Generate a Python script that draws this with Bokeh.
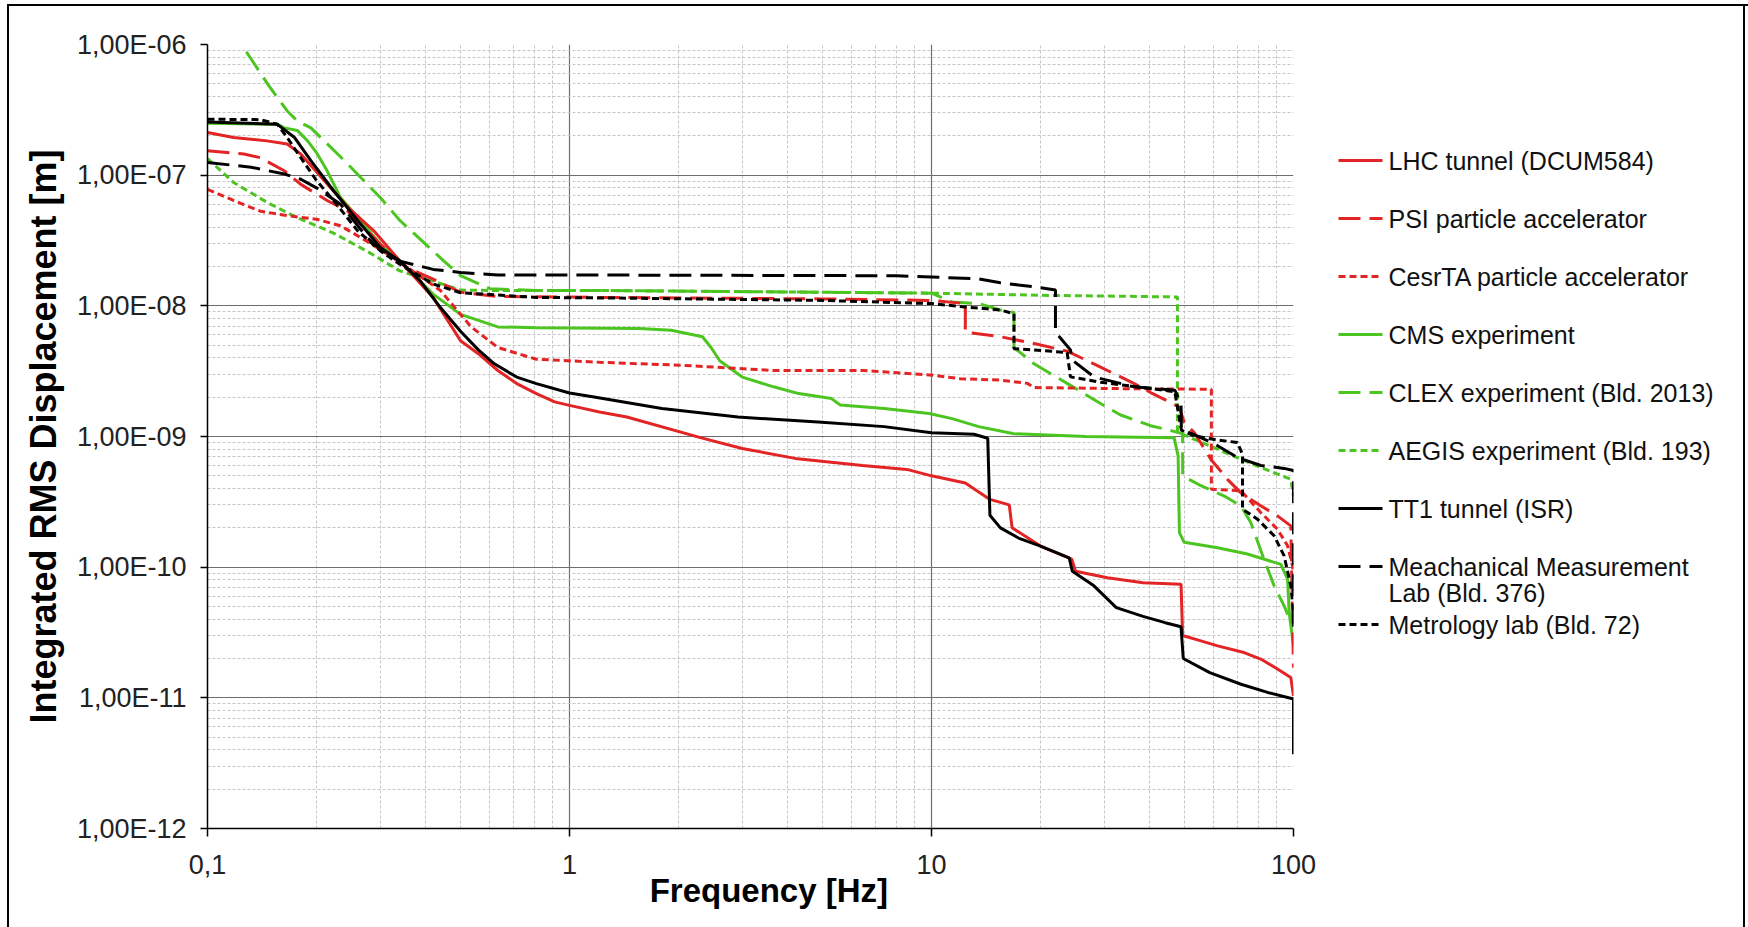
from bokeh.plotting import figure
from bokeh.layouts import row
from bokeh.models import FixedTicker, CustomJSTickFormatter, Range1d
from bokeh.core.properties import value
from bokeh.embed import file_html
from bokeh.resources import INLINE

# ---------------- data ----------------
x_tick_values = [0.1, 1, 10, 100]
x_tick_labels = ["0,1", "1", "10", "100"]
y_tick_values = [1e-12, 1e-11, 1e-10, 1e-9, 1e-8, 1e-7, 1e-6]
y_tick_labels = ["1,00E-12", "1,00E-11", "1,00E-10", "1,00E-09",
                 "1,00E-08", "1,00E-07", "1,00E-06"]

series_names = ["LHC tunnel (DCUM584)", "PSI particle accelerator",
                "CesrTA particle accelerator", "CMS experiment",
                "CLEX experiment (Bld. 2013)", "AEGIS experiment (Bld. 193)",
                "TT1 tunnel (ISR)", "Meachanical Measurement",
                "Metrology lab (Bld. 72)"]
legend_extra_line = "Lab (Bld. 376)"
x_title = "Frequency [Hz]"
y_title = "Integrated RMS Displacement [m]"

lhc_f = [0.1, 0.118, 0.146, 0.166, 0.181, 0.21, 0.244, 0.288, 0.34, 0.42, 0.5,
         0.56, 0.634, 0.715, 0.81, 0.91, 1.0, 1.21, 1.44, 2.3, 3.0, 4.2, 6.45,
         8.55, 10, 12.4, 14.5, 16.4, 16.7, 20, 24.4, 25, 30.6, 38.4, 48.9, 49.4,
         55.5, 61.7, 73, 81.2, 90.3, 98.3, 100]
lhc_d = [2.12e-7, 1.94e-7, 1.83e-7, 1.73e-7, 1.45e-7, 9.1e-8, 5.7e-8, 3.75e-8,
         2.2e-8, 1.16e-8, 5.4e-9, 4.3e-9, 3.2e-9, 2.54e-9, 2.13e-9, 1.84e-9,
         1.73e-9, 1.54e-9, 1.41e-9, 9.8e-10, 8.1e-10, 6.8e-10, 6.0e-10, 5.6e-10,
         5.0e-10, 4.4e-10, 3.3e-10, 3.0e-10, 2.0e-10, 1.45e-10, 1.15e-10,
         9.3e-11, 8.3e-11, 7.6e-11, 7.4e-11, 3.0e-11, 2.73e-11, 2.5e-11,
         2.22e-11, 1.98e-11, 1.66e-11, 1.43e-11, 1.03e-11]

psi_f = [0.1, 0.126, 0.14, 0.163, 0.181, 0.214, 0.244, 0.30, 0.356, 0.42, 0.5,
         0.634, 1.21, 5, 10, 12.4, 12.4, 15.5, 19.2, 23.7, 29.3, 36.2, 40.3,
         45.8, 48.4, 49.9, 53.2, 59.1, 65.7, 71.6, 81.2, 90.3, 98.3, 100]
psi_d = [1.54e-7, 1.45e-7, 1.36e-7, 1.08e-7, 8.5e-8, 6.4e-8, 5.3e-8, 2.97e-8,
         1.96e-8, 1.6e-8, 1.27e-8, 1.18e-8, 1.16e-8, 1.13e-8, 1.1e-8, 1.04e-8,
         6.3e-9, 5.8e-9, 5.15e-9, 4.5e-9, 3.4e-9, 2.55e-9, 2.17e-9, 1.82e-9,
         1.67e-9, 1.28e-9, 1.07e-9, 6.7e-10, 4.7e-10, 3.7e-10, 2.95e-10,
         2.47e-10, 2.07e-10, 1.7e-11]

cesr_f = [0.1, 0.118, 0.14, 0.166, 0.2, 0.233, 0.265, 0.30, 0.345, 0.44, 0.535,
          0.634, 0.81, 1.21, 2.08, 3.66, 6.45, 10.1, 12, 15.5, 18.4, 19.2, 35.2,
          59.3, 59.3, 71.6, 81.2, 90.3, 96.3, 99.4, 100]
cesr_d = [7.8e-8, 6.4e-8, 5.3e-8, 4.9e-8, 4.6e-8, 4.1e-8, 3.33e-8, 2.7e-8,
          2.1e-8, 1.31e-8, 6.9e-9, 4.8e-9, 3.9e-9, 3.7e-9, 3.5e-9, 3.2e-9,
          3.2e-9, 2.94e-9, 2.77e-9, 2.7e-9, 2.55e-9, 2.37e-9, 2.32e-9, 2.3e-9,
          3.95e-10, 3.84e-10, 2.62e-10, 1.95e-10, 1.46e-10, 1.02e-10, 8.0e-11]

cms_f = [0.1, 0.156, 0.163, 0.177, 0.189, 0.2, 0.214, 0.233, 0.26, 0.30, 0.34,
         0.42, 0.5, 0.634, 0.81, 1.56, 1.91, 2.33, 2.46, 2.6, 3.0, 3.66, 4.3,
         5.29, 5.6, 7.4, 9.85, 11.4, 13.5, 16.9, 26.7, 46.8, 48, 48.4, 49.9,
         61.7, 74.6, 92.3, 96.3, 97.3, 100]
cms_d = [2.5e-7, 2.45e-7, 2.3e-7, 2.2e-7, 1.83e-7, 1.49e-7, 1.08e-7, 6.75e-8,
         4.75e-8, 2.97e-8, 2.2e-8, 1.23e-8, 8.6e-9, 6.9e-9, 6.8e-9, 6.7e-9,
         6.5e-9, 5.8e-9, 4.8e-9, 3.8e-9, 2.85e-9, 2.4e-9, 2.13e-9, 1.95e-9,
         1.74e-9, 1.64e-9, 1.5e-9, 1.37e-9, 1.19e-9, 1.05e-9, 1.0e-9, 9.8e-10,
         7.1e-10, 1.84e-10, 1.55e-10, 1.41e-10, 1.26e-10, 1.05e-10, 8.1e-11,
         4.5e-11, 2.5e-11]

clex_f = [0.128, 0.148, 0.166, 0.177, 0.193, 0.21, 0.239, 0.265, 0.30, 0.34,
          0.40, 0.45, 0.5, 0.604, 0.81, 1.21, 5, 10, 11.4, 13.5, 15.5, 16.9,
          16.9, 19.2, 23.7, 29.3, 33.3, 40.3, 47, 49.4, 49.4, 55.5, 64.4, 71.6,
          76.2, 82.9, 88.4, 94.2, 97.3, 100]
clex_d = [8.8e-7, 4.8e-7, 3.1e-7, 2.6e-7, 2.3e-7, 1.83e-7, 1.29e-7, 9.6e-8,
          6.75e-8, 4.5e-8, 2.97e-8, 2.2e-8, 1.7e-8, 1.35e-8, 1.31e-8, 1.31e-8,
          1.27e-8, 1.25e-8, 1.07e-8, 1.04e-8, 9.3e-9, 8.9e-9, 4.8e-9, 3.6e-9,
          2.55e-9, 1.79e-9, 1.46e-9, 1.21e-9, 1.09e-9, 1.05e-9, 5.0e-10,
          4.2e-10, 3.5e-10, 2.94e-10, 2.2e-10, 1.15e-10, 7.2e-11, 5.06e-11,
          4.1e-11, 4.0e-11]

aegis_f = [0.1, 0.118, 0.146, 0.175, 0.223, 0.277, 0.34, 0.42, 0.5, 0.634, 1.21,
           10, 21.8, 47.8, 47.8, 49.4, 71.6, 81.2, 98.3, 100]
aegis_d = [1.34e-7, 8.8e-8, 6.2e-8, 4.8e-8, 3.6e-8, 2.6e-8, 1.85e-8, 1.55e-8,
           1.32e-8, 1.31e-8, 1.31e-8, 1.25e-8, 1.2e-8, 1.17e-8, 1.1e-9,
           1.04e-9, 6.7e-10, 5.8e-10, 4.7e-10, 3.5e-10]

tt1_f = [0.1, 0.156, 0.174, 0.193, 0.223, 0.26, 0.30, 0.34, 0.387, 0.44, 0.5,
         0.56, 0.62, 0.715, 0.81, 1.0, 1.18, 1.8, 2.92, 4.86, 7.4, 10, 13.1,
         14.3, 14.5, 15.5, 17.4, 20, 24, 24.5, 28.1, 32.4, 38.4, 44.2, 48.9,
         49.6, 58.7, 71.6, 84.8, 100, 100]
tt1_d = [2.55e-7, 2.45e-7, 1.94e-7, 1.29e-7, 7.6e-8, 4.5e-8, 2.8e-8, 2.2e-8,
         1.55e-8, 9.7e-9, 6.4e-9, 4.6e-9, 3.6e-9, 2.85e-9, 2.54e-9, 2.15e-9,
         2.0e-9, 1.64e-9, 1.41e-9, 1.29e-9, 1.19e-9, 1.07e-9, 1.04e-9, 9.7e-10,
         2.5e-10, 2.0e-10, 1.67e-10, 1.45e-10, 1.18e-10, 9.3e-11, 7.2e-11,
         4.9e-11, 4.2e-11, 3.76e-11, 3.5e-11, 2.0e-11, 1.56e-11, 1.27e-11,
         1.1e-11, 9.8e-12, 3.7e-12]

mech_f = [0.1, 0.132, 0.163, 0.181, 0.2, 0.233, 0.277, 0.30, 0.34, 0.42, 0.5,
          0.634, 1.21, 8, 10, 13.5, 15.5, 19.2, 22, 22, 24.2, 24.5, 28.1, 36.2,
          47, 48.9, 49, 55.5, 61.7, 70, 81.2, 94.2, 100, 100]
mech_d = [1.25e-7, 1.15e-7, 1.02e-7, 9.3e-8, 8.0e-8, 6.0e-8, 3.3e-8, 2.7e-8,
          2.2e-8, 1.9e-8, 1.8e-8, 1.72e-8, 1.72e-8, 1.7e-8, 1.66e-8, 1.61e-8,
          1.5e-8, 1.4e-8, 1.32e-8, 6.3e-9, 4.6e-9, 3.84e-9, 2.86e-9, 2.4e-9,
          2.26e-9, 1.79e-9, 1.14e-9, 9.8e-10, 8.5e-10, 6.9e-10, 6.0e-10,
          5.7e-10, 5.5e-10, 3.5e-11]

metro_f = [0.1, 0.14, 0.156, 0.166, 0.181, 0.2, 0.223, 0.26, 0.30, 0.34, 0.42,
           0.5, 0.81, 1.21, 5, 10, 12.4, 15.5, 16.9, 16.9, 23.7, 24.2, 29.3,
           40.3, 47, 49, 53.2, 61.7, 70, 72.3, 72.3, 79.5, 88.4, 94.2, 98.3, 100]
metro_d = [2.68e-7, 2.66e-7, 2.45e-7, 1.94e-7, 1.36e-7, 9.1e-8, 6.4e-8, 3.75e-8,
           2.64e-8, 2.08e-8, 1.47e-8, 1.26e-8, 1.16e-8, 1.15e-8, 1.1e-8, 1.04e-8,
           9.8e-9, 9.3e-9, 8.7e-9, 4.7e-9, 4.4e-9, 2.86e-9, 2.6e-9, 2.33e-9,
           2.2e-9, 1.12e-9, 1.01e-9, 9.4e-10, 9.0e-10, 7.3e-10, 2.78e-10,
           2.33e-10, 1.74e-10, 1.22e-10, 7.2e-11, 4.5e-11]

# ---------------- layout constants ----------------
W, H = 1748, 927
FL, FR, FT, FB = 207, 1293, 44, 828   # plot frame edges (pixels)
W1 = 1330                              # width of the chart figure; legend panel follows

RED = "#e32424"
GREEN = "#4cc521"
BLACK = "#000000"
LONG = "22 9"
SHORT = "7 4"
FONT = "Liberation Sans"
NBSP = "\u00a0"

# ---------------- main chart ----------------
p = figure(width=W1, height=H, x_axis_type="log", y_axis_type="log",
           x_range=(0.1, 100), y_range=(1e-12, 1e-6),
           output_backend="svg", toolbar_location=None,
           min_border_left=FL, min_border_right=W1 - FR,
           min_border_top=FT, min_border_bottom=H - FB)
p.background_fill_color = "white"
p.border_fill_alpha = 0
p.outline_line_color = None
# outer chart border (left + top edges of this part)
p.styles = {
    "background-color": "white",
    "background-image": "linear-gradient(#000,#000), linear-gradient(#000,#000)",
    "background-size": "2px 930px, 1330px 2px",
    "background-position": "7px 4px, 7px 4px",
    "background-repeat": "no-repeat",
}

x_minor = [m * 10.0 ** e for e in (-1, 0, 1) for m in range(2, 10)]
y_minor = [m * 10.0 ** e for e in range(-12, -6) for m in range(2, 10)]
xt = FixedTicker(ticks=x_tick_values, minor_ticks=x_minor)
yt = FixedTicker(ticks=y_tick_values, minor_ticks=y_minor)
p.xaxis.ticker = xt
p.yaxis.ticker = yt
p.xgrid.ticker = xt
p.ygrid.ticker = yt

fmt_code = """
let best = 0, bd = Infinity;
for (let i = 0; i < vals.length; i++) {
  const d = Math.abs(Math.log10(tick) - Math.log10(vals[i]));
  if (d < bd) { bd = d; best = i; }
}
return labs[best];
"""
p.xaxis.formatter = CustomJSTickFormatter(args=dict(vals=x_tick_values, labs=x_tick_labels), code=fmt_code)
p.yaxis.formatter = CustomJSTickFormatter(args=dict(vals=y_tick_values, labs=y_tick_labels), code=fmt_code)

for g in (p.xgrid, p.ygrid):
    g.grid_line_color = "#6e6e6e"
    g.grid_line_width = 1.2
    g.minor_grid_line_color = "#c6c6c6"
    g.minor_grid_line_dash = "3 2"
    g.minor_grid_line_width = 1

for ax in (p.xaxis, p.yaxis):
    ax.axis_line_color = "black"
    ax.axis_line_width = 1.5
    ax.major_tick_line_color = "black"
    ax.major_tick_line_width = 1.5
    ax.major_tick_in = 0
    ax.minor_tick_line_color = None
    ax.major_label_text_font = FONT
    ax.major_label_text_font_size = "27px"
    ax.major_label_text_color = "#222222"
    ax.axis_label_text_font = FONT
    ax.axis_label_text_font_style = "bold"
    ax.axis_label_text_color = "#000000"
p.xaxis.major_tick_out = 8
p.yaxis.major_tick_out = 7
p.xaxis.major_label_standoff = 18
p.yaxis.major_label_standoff = 14

# leading no-break spaces shift the centred title right, as in the original
p.xaxis.axis_label = NBSP * 4 + x_title
p.xaxis.axis_label_text_font_size = "33px"
p.xaxis.axis_label_standoff = -5
p.yaxis.axis_label = y_title
p.yaxis.axis_label_text_font_size = "36px"
p.yaxis.axis_label_standoff = 10

def draw(f, d, color, dash):
    return p.line(f, d, line_color=color, line_width=3, line_dash=dash)

styles = {}
styles["cms"] = (GREEN, "solid")
styles["aegis"] = (GREEN, SHORT)
styles["clex"] = (GREEN, LONG)
styles["cesr"] = (RED, SHORT)
styles["psi"] = (RED, LONG)
styles["lhc"] = (RED, "solid")
styles["metro"] = (BLACK, SHORT)
styles["mech"] = (BLACK, LONG)
styles["tt1"] = (BLACK, "solid")

draw(cms_f, cms_d, *styles["cms"])
draw(aegis_f, aegis_d, *styles["aegis"])
draw(clex_f, clex_d, *styles["clex"])
draw(cesr_f, cesr_d, *styles["cesr"])
draw(psi_f, psi_d, *styles["psi"])
draw(lhc_f, lhc_d, *styles["lhc"])
draw(metro_f, metro_d, *styles["metro"])
draw(mech_f, mech_d, *styles["mech"])
draw(tt1_f, tt1_d, *styles["tt1"])

# ---------------- legend panel (page pixel coordinates, y downwards) ----------------
p2 = figure(width=W - W1, height=H, x_range=Range1d(W1, W), y_range=Range1d(FB, FT),
            output_backend="svg", toolbar_location=None,
            min_border_left=0, min_border_right=0,
            min_border_top=FT, min_border_bottom=H - FB,
            x_axis_location=None, y_axis_location=None)
p2.grid.visible = False
p2.outline_line_color = None
p2.background_fill_alpha = 0
p2.border_fill_alpha = 0
# outer chart border (top + right edges of this part)
p2.styles = {
    "background-color": "white",
    "background-image": "linear-gradient(#000,#000), linear-gradient(#000,#000)",
    "background-size": "420px 2px, 2px 930px",
    "background-position": "0px 4px, 413px 4px",
    "background-repeat": "no-repeat",
}

legend_keys = ["lhc", "psi", "cesr", "cms", "clex", "aegis", "tt1", "mech", "metro"]
LX0, LX1, TX = 1338, 1382, 1388
Y0, PITCH = 160, 58
ys = [Y0 + PITCH * i for i in range(len(legend_keys))]
for key, yy in zip(legend_keys, ys):
    c, dsh = styles[key]
    p2.line([LX0, LX1], [yy, yy], line_color=c, line_width=3, line_dash=dsh)
p2.text(x=[TX] * (len(ys) + 1), y=ys + [ys[7] + 26],
        text=series_names + [legend_extra_line],
        text_font=value(FONT), text_font_size="25px", text_color="#111111",
        text_align="left", text_baseline="middle")

layout = row(p, p2, spacing=0)
open("out.html", "w").write(file_html(layout, INLINE))
